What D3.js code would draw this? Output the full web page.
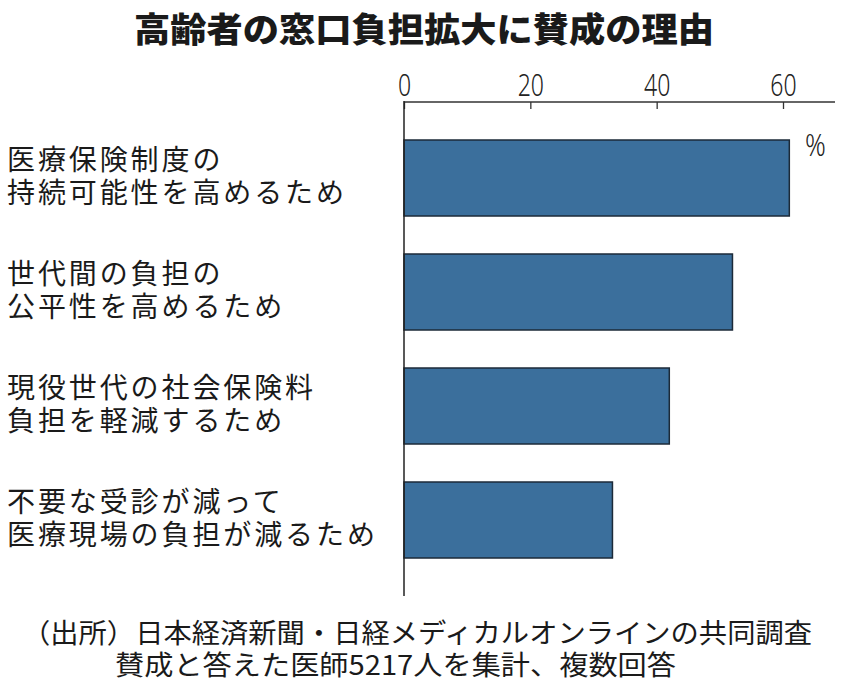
<!DOCTYPE html>
<html><head><meta charset="utf-8">
<script src="https://cdn.jsdelivr.net/npm/d3@7"></script>
<style>
body{margin:0;background:#fff;}
svg{display:block;}
</style></head>
<body>
<svg id="chart" width="850" height="690"></svg>
<script>
const categories = [
  ["医療保険制度の","持続可能性を高めるため"],
  ["世代間の負担の","公平性を高めるため"],
  ["現役世代の社会保険料","負担を軽減するため"],
  ["不要な受診が減って","医療現場の負担が減るため"]
];
const values = [61, 52, 42, 33];
const tickValues = [0, 20, 40, 60];
const title = "高齢者の窓口負担拡大に賛成の理由";
const unit = "%";
const sourceLines = ["（出所）日本経済新聞・日経メディカルオンラインの共同調査","賛成と答えた医師5217人を集計、複数回答"];

const svg = d3.select("#chart");
const jp = "'Noto Sans CJK JP','Noto Sans CJK SC',sans-serif";

const x = d3.scaleLinear().domain([0, 60]).range([404, 783]);
const y = d3.scaleBand().domain(d3.range(categories.length)).range([102, 596]).paddingInner(1/3).paddingOuter(1/3);

// title
svg.append("text").attr("x", 424).attr("y", 42).attr("text-anchor","middle")
  .attr("font-family", jp).attr("font-weight", 900).attr("font-size", 34)
  .attr("fill","#1a1a1a").attr("textLength", 580).attr("lengthAdjust","spacingAndGlyphs")
  .text(title);

// top axis
const axis = d3.axisTop(x).tickValues(tickValues).tickSize(-7).tickPadding(6).tickSizeOuter(0);
const gAxis = svg.append("g").attr("transform","translate(0,102)").call(axis);
gAxis.select(".domain").remove();
gAxis.append("line").attr("x1", 404).attr("x2", 835).attr("y1", 0).attr("y2", 0)
  .attr("stroke","#333").attr("stroke-width",1.3);
gAxis.selectAll(".tick line").attr("stroke","#333").attr("stroke-width",1.3);
gAxis.selectAll(".tick text").attr("font-family", "'Noto Sans',sans-serif").attr("font-size", 32)
  .attr("font-weight", 300)
  .attr("fill","#222").attr("dy", "0").attr("transform","scale(0.72,1)");

// bars
svg.append("g").selectAll("rect").data(values).join("rect")
  .attr("x", x(0)).attr("y", (d,i)=>y(i))
  .attr("width", d=>x(d)-x(0)).attr("height", y.bandwidth())
  .attr("fill","#3b6f9c").attr("stroke","#1c2a38").attr("stroke-width",1.5);

// vertical axis line
svg.append("line").attr("x1", 404).attr("x2", 404).attr("y1", 101).attr("y2", 596)
  .attr("stroke","#222").attr("stroke-width",1.5);

// unit
svg.append("text").attr("x", 805).attr("y", 156).attr("font-family", "'Noto Sans',sans-serif")
  .attr("font-size", 32).attr("font-weight", 300).attr("fill","#222")
  .attr("transform","translate(805,0) scale(0.8,1) translate(-805,0)").text(unit);

// category labels
const lab = svg.append("g").selectAll("text").data(categories).join("text")
  .attr("font-family", jp).attr("font-size", 28).attr("fill","#1a1a1a")
  .attr("letter-spacing", 2.9);
lab.each(function(d,i){
  const c = y(i) + y.bandwidth()/2;
  d3.select(this).selectAll("tspan").data(d).join("tspan")
    .attr("x", 7).attr("y", (t,j)=> c - 8 + j*33).text(t=>t);
});

// source
svg.append("text").attr("x", 22).attr("y", 643).attr("font-family", jp).attr("font-size", 27)
  .attr("fill","#1a1a1a").attr("textLength", 790).attr("lengthAdjust","spacingAndGlyphs").text(sourceLines[0]);
svg.append("text").attr("x", 115).attr("y", 675).attr("font-family", jp).attr("font-size", 27)
  .attr("fill","#1a1a1a").attr("textLength", 561).attr("lengthAdjust","spacingAndGlyphs").text(sourceLines[1]);
</script>
</body></html>
